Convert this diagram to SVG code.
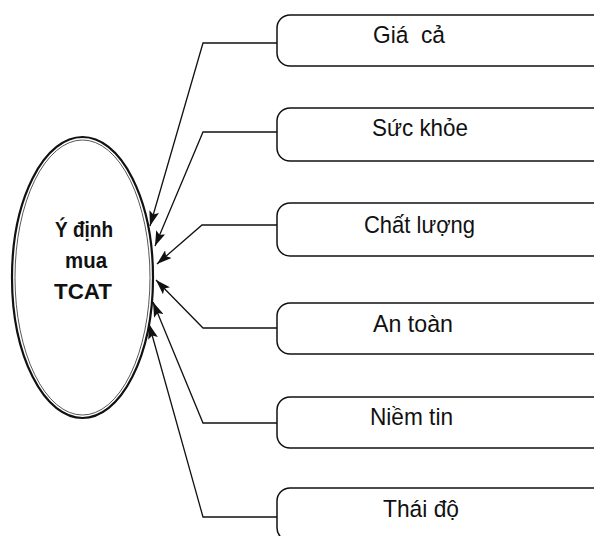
<svg xmlns="http://www.w3.org/2000/svg" width="594" height="536" viewBox="0 0 594 536">
  <style>
    .box { fill: #fff; stroke: #111; stroke-width: 1.5; }
    .lbl { font-family: "Liberation Sans", Arial, sans-serif; font-size: 24.5px; fill: #111; }
    .core { font-family: "Liberation Sans", Arial, sans-serif; font-size: 22px; font-weight: bold; fill: #111; text-anchor: middle; }
    .link { fill: none; stroke: #111; stroke-width: 1.3; marker-end: url(#head); }
  </style>
  <defs>
    <marker id="head" markerUnits="userSpaceOnUse" markerWidth="16" markerHeight="10" refX="15" refY="5" orient="auto">
      <path d="M0,0 L15,5 L0,10 L3,5 Z" fill="#111"/>
    </marker>
  </defs>
  <rect width="594" height="536" fill="#fff"/>

  <g id="center">
    <ellipse cx="82.5" cy="277.5" rx="70.5" ry="140.5" fill="#fff" stroke="#111" stroke-width="2.2"/>
    <ellipse cx="82.5" cy="277.5" rx="67.5" ry="137.5" fill="none" stroke="#444" stroke-width="0.9"/>
    <text class="core" x="84" y="237" textLength="58" lengthAdjust="spacingAndGlyphs">Ý định</text>
    <text class="core" x="86" y="268" textLength="42" lengthAdjust="spacingAndGlyphs">mua</text>
    <text class="core" x="83" y="299" textLength="58" lengthAdjust="spacingAndGlyphs">TCAT</text>
  </g>

  <g id="gia-ca">
    <rect class="box" x="277" y="15" width="330" height="51" rx="13"/>
    <text class="lbl" x="373" y="43" xml:space="preserve" textLength="72" lengthAdjust="spacingAndGlyphs">Giá  cả</text>
  </g>
  <g id="suc-khoe">
    <rect class="box" x="277" y="108" width="330" height="53" rx="13"/>
    <text class="lbl" x="372" y="136" textLength="96" lengthAdjust="spacingAndGlyphs">Sức khỏe</text>
  </g>
  <g id="chat-luong">
    <rect class="box" x="277" y="203" width="330" height="53" rx="13"/>
    <text class="lbl" x="364" y="233" textLength="111" lengthAdjust="spacingAndGlyphs">Chất lượng</text>
  </g>
  <g id="an-toan">
    <rect class="box" x="277" y="303" width="330" height="51" rx="13"/>
    <text class="lbl" x="373" y="332" textLength="80" lengthAdjust="spacingAndGlyphs">An toàn</text>
  </g>
  <g id="niem-tin">
    <rect class="box" x="277" y="397" width="330" height="51" rx="13"/>
    <text class="lbl" x="370" y="425" textLength="83" lengthAdjust="spacingAndGlyphs">Niềm tin</text>
  </g>
  <g id="thai-do">
    <rect class="box" x="277" y="488" width="330" height="53" rx="13"/>
    <text class="lbl" x="383" y="517" textLength="76" lengthAdjust="spacingAndGlyphs">Thái độ</text>
  </g>

  <g id="connectors">
    <path class="link" d="M277,43 H203 L150,226"/>
    <path class="link" d="M277,132 H203 L155,246"/>
    <path class="link" d="M277,225 H202 L157,264"/>
    <path class="link" d="M277,328 H203 L156,280"/>
    <path class="link" d="M277,423 H203 L153,302"/>
    <path class="link" d="M277,517 H203 L149,324"/>
  </g>
</svg>
